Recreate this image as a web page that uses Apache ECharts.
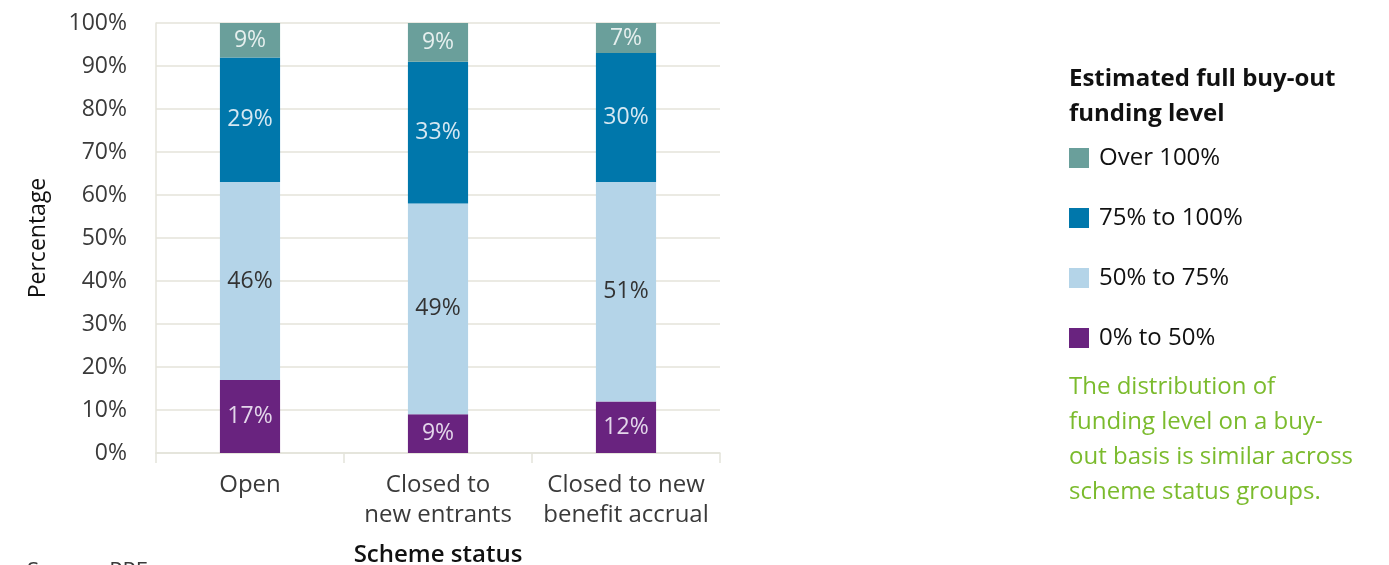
<!DOCTYPE html>
<html>
<head>
<meta charset="utf-8">
<script src="https://cdn.jsdelivr.net/npm/echarts@6/dist/echarts.min.js"></script>
<style>
  html, body { margin: 0; padding: 0; background: #fff; overflow: hidden; }
  #chart { width: 1389px; height: 565px; }
</style>
</head>
<body>
<div id="chart"></div>
<script>
// Scheme status groups on the x axis
const categories = ['Open', 'Closed to\nnew entrants', 'Closed to new\nbenefit accrual'];

// Share of schemes (%) in each buy-out funding band, stacked bottom to top
const band0to50 = [17, 9, 12];
const band50to75 = [46, 49, 51];
const band75to100 = [29, 33, 30];
const bandOver100 = [9, 9, 7];

const yTicks = [0, 10, 20, 30, 40, 50, 60, 70, 80, 90, 100];

const FONT = '"Open Sans", "Noto Sans", sans-serif';
const gridColor = '#e4e3da';

function bandSeries(name, data, color, labelColor) {
  return {
    name: name,
    type: 'bar',
    stack: 'total',
    barWidth: '32%',
    data: data,
    itemStyle: { color: color },
    label: {
      show: true,
      position: 'inside',
      formatter: '{c}%',
      color: labelColor,
      fontFamily: FONT,
      fontSize: 23
    }
  };
}

const chart = echarts.init(document.getElementById('chart'), null, { renderer: 'canvas' });

chart.setOption({
  animation: false,
  backgroundColor: '#ffffff',
  grid: {
    left: 156, right: 669, top: 23, bottom: 112,
    containLabel: false,
    outerBoundsMode: 'none'
  },
  xAxis: {
    type: 'category',
    data: categories,
    name: 'Scheme status',
    nameLocation: 'middle',
    nameGap: 90,
    nameTextStyle: { fontFamily: FONT, fontSize: 24, color: '#111', fontWeight: 600 },
    axisLine: { show: true, lineStyle: { color: gridColor, width: 1.5 } },
    axisTick: { show: true, alignWithLabel: false, length: 10, lineStyle: { color: gridColor, width: 1.5 } },
    axisLabel: { fontFamily: FONT, fontSize: 24, color: '#3a3a3a', margin: 17, lineHeight: 30, interval: 0 }
  },
  yAxis: {
    type: 'value',
    min: 0,
    max: 100,
    interval: 10,
    name: 'Percentage',
    nameLocation: 'middle',
    nameGap: 106,
    nameRotate: 90,
    nameTextStyle: { fontFamily: FONT, fontSize: 23, color: '#111' },
    axisLine: { show: true, lineStyle: { color: gridColor, width: 1.5 } },
    axisTick: { show: false },
    splitLine: { show: true, lineStyle: { color: gridColor, width: 1.5 } },
    axisLabel: {
      fontFamily: FONT, fontSize: 23, color: '#3a3a3a', margin: 29,
      formatter: function (v) { return yTicks.indexOf(v) >= 0 ? v + '%' : ''; }
    }
  },
  legend: {
    orient: 'vertical',
    left: 1069,
    top: 146,
    padding: 0,
    icon: 'rect',
    itemWidth: 20,
    itemHeight: 20,
    itemGap: 36,
    data: ['Over 100%', '75% to 100%', '50% to 75%', '0% to 50%'],
    textStyle: { fontFamily: FONT, fontSize: 24, color: '#111', lineHeight: 20, padding: [0, 0, 0, 5] }
  },
  graphic: [
    {
      type: 'text',
      left: 1069,
      top: 62,
      style: {
        text: 'Estimated full buy-out\nfunding level',
        font: 'bold 24px ' + FONT,
        fill: '#111',
        lineHeight: 35
      }
    },
    {
      type: 'text',
      left: 1069,
      top: 370,
      style: {
        text: 'The distribution of\nfunding level on a buy-\nout basis is similar across\nscheme status groups.',
        font: '24px ' + FONT,
        fill: '#7bbb2d',
        lineHeight: 35
      }
    },
    {
      type: 'text',
      left: 27,
      top: 561,
      style: { text: 'Source: PPF', font: '22px ' + FONT, fill: '#3a3a3a' }
    }
  ],
  series: [
    bandSeries('0% to 50%', band0to50, '#69237f', '#e3d6ea'),
    bandSeries('50% to 75%', band50to75, '#b4d4e8', '#333333'),
    bandSeries('75% to 100%', band75to100, '#0077ab', '#d6e8f2'),
    bandSeries('Over 100%', bandOver100, '#6a9f9b', '#e6efee')
  ]
});
</script>
</body>
</html>
